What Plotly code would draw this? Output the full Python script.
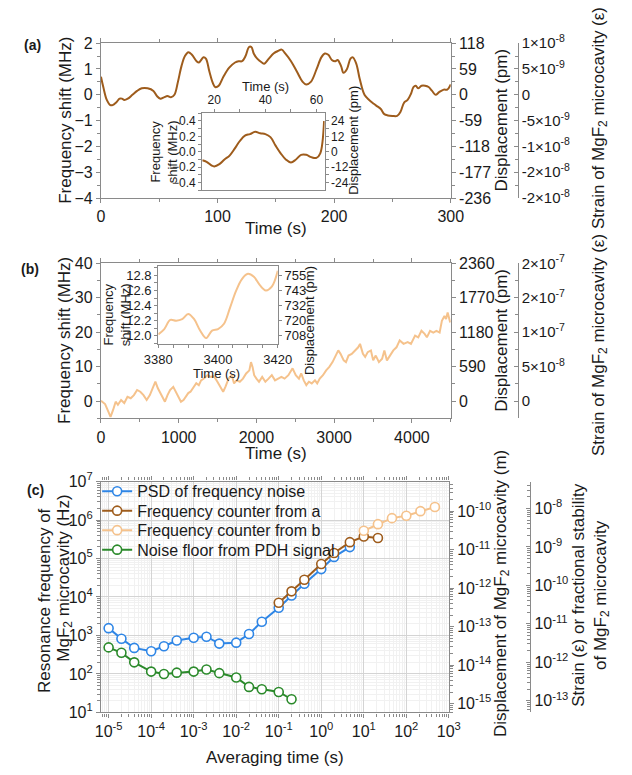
import numpy as np
import plotly.graph_objects as go

# ---------------- data ----------------
# panel (a): frequency shift vs time
a_time = [0,2,5,8,10,13,16,18,20,23,27,31,35,40,45,48,51,54,57,60,63,66,69,72,75,78,82,84,88,90,
          93,96,98,101,105,110,115,118,121,124,127,129,131,134,138,140,144,148,152,155,158,163,168,173,176,180,
          185,189,192,195,198,201,203,206,208,211,214,216,219,222,226,230,234,237,240,243,246,250,254,257,260,
          263,266,268,270,272,275,278,281,284,287,290,294,297,300]
a_shift = [0.7,0.3,-0.2,-0.4,-0.4,-0.3,-0.15,-0.15,-0.2,-0.15,0.0,0.15,0.25,0.25,0.15,-0.05,-0.15,-0.1,-0.05,-0.1,
           0.0,0.5,1.1,1.5,1.65,1.55,1.3,1.25,1.45,1.4,0.9,0.45,0.3,0.35,0.7,1.05,1.25,1.3,1.3,1.5,1.85,1.85,1.6,
           1.4,1.25,1.2,1.4,1.6,1.7,1.75,1.6,1.3,0.9,0.5,0.4,0.5,1.0,1.45,1.6,1.55,1.35,1.3,1.35,1.1,0.85,1.0,1.4,
           1.45,1.2,0.6,0.0,-0.2,-0.35,-0.45,-0.55,-0.75,-0.8,-0.82,-0.82,-0.65,-0.3,-0.2,0.05,0.3,0.35,0.25,0.35,
           0.35,0.3,0.15,0.0,0.1,0.2,0.2,0.4]
a_in_time = [15.3,17,19,20,22,24,26,28,30,32,34,36,38,40,42,44,46,48,50,52,54,56,58,60,61.5,63]
a_in_shift = [-0.11,-0.13,-0.18,-0.19,-0.16,-0.1,-0.05,0.04,0.14,0.21,0.23,0.26,0.24,0.23,0.19,0.08,-0.02,
              -0.1,-0.14,-0.1,-0.04,-0.04,-0.07,-0.08,-0.02,0.4]

# panel (b)
b_time = [0,53,95,123,156,189,218,259,300,341,383,424,465,506,547,588,629,670,700,732,765,794,823,856,889,930,
          959,1000,1029,1062,1095,1123,1152,1185,1226,1259,1288,1329,1370,1411,1453,
          1498,1539,1572,1601,1642,1683,1712,1745,1786,1827,1868,1909,1930,1950,1971,2000,2033,2074,2115,2156,
          2198,2239,2280,2321,2362,2411,2465,2506,2547,2576,2609,2642,2675,2712,2753,2782,2815,2856,2897,
          2938,2979,3020,3053,3082,3123,3152,3185,3226,3267,3309,3333,3370,3399,3432,3473,3502,3535,3576,3617,
          3646,3679,3720,3761,3802,3843,3893,3946,3988,4041,4082,4123,4164,4193,4234,4275,4316,4357,4386,4419,
          4440,4460,4493]
b_shift = [0.1,-0.9,-3.1,-4.6,-2.6,-0.2,-1.1,0.3,-0.6,1.2,0.8,1.7,3.2,2.7,1.7,0.3,1.7,3.7,5.6,3.7,
           2.3,1.2,-0.2,1.7,3.2,4.1,2.7,0.8,-0.2,0.3,1.2,2.3,2.7,3.7,5.2,4.6,6.0,6.6,7.5,7.0,7.2,
           5.6,4.1,2.7,4.1,6.5,7.5,5.1,6.0,5.6,6.5,8.0,8.9,11.3,9.9,7.5,6.5,5.6,7.0,5.6,6.5,
           7.5,6.0,6.5,7.0,6.5,7.5,9.5,7.5,6.5,8.0,6.0,4.6,5.6,5.1,6.0,5.1,6.5,7.5,8.9,
           9.9,11.3,13.2,14.7,13.7,11.8,11.3,13.2,13.7,14.7,15.6,16.6,13.7,12.8,14.2,14.7,11.8,13.2,11.3,12.3,
           14.7,11.8,13.2,14.7,15.6,17.6,16.6,17.1,16.6,19.0,18.5,20.4,19.5,18.5,20.4,19.9,20.4,19.9,23.3,24.7,
           23.8,25.7,22.8]
b_in_time = [3380,3382,3384,3386,3388,3390,3392,3394,3396,3398,3400,3402,3404,3406,3408,3410,3412,3414,3416,3418,3420]
b_in_shift = [12.02,12.09,12.21,12.20,12.22,12.29,12.22,12.07,11.97,12.07,12.09,12.16,12.37,12.59,12.75,12.82,
              12.78,12.67,12.60,12.65,12.86]

# panel (c)
psd_tau = [1e-5,2e-5,4e-5,1e-4,2e-4,4e-4,1e-3,2e-3,4e-3,1e-2,2e-2,4e-2,0.1,0.2,0.4,1,2,4.7]
psd_val = [1550,820,475,390,525,740,870,930,615,650,1090,2280,5270,10900,22000,53000,110000,198000]
ca_tau = [0.1,0.2,0.4,1,2,4.7,10,21.5]
ca_val = [7100,14000,28000,72000,139000,266000,373000,340000]
cb_tau = [10,21.5,46,100,215,470]
cb_val = [525000,780000,1120000,1290000,1700000,2170000]
pdh_tau = [1e-5,2e-5,4e-5,1e-4,2e-4,4e-4,1e-3,2e-3,4e-3,1e-2,2e-2,4e-2,0.1,0.2]
pdh_val = [490,355,200,115,100,108,115,131,105,81,46,40,34,22]
c_names = ["PSD of frequency noise", "Frequency counter from a", "Frequency counter from b",
           "Noise floor from PDH signal"]

# conversions used by the secondary axes
PM_PER_MHZ = 59.0
STRAIN_PER_MHZ = 5e-9
M_PER_HZ = 5.9e-17
STRAIN_PER_HZ = 5e-15

# tick labels
a_y_ticks = [-4,-3,-2,-1,0,1,2]
a_disp_labels = ["-236","-177","-118","-59","0","59","118"]
a_strain_labels = ["-2×10<sup>-8</sup>","-2×10<sup>-8</sup>","-1×10<sup>-8</sup>","-5×10<sup>-9</sup>","0",
                   "5×10<sup>-9</sup>","1×10<sup>-8</sup>"]
a_in_y_ticks = [-0.4,-0.2,0.0,0.2,0.4]
a_in_disp_labels = ["-24","-12","0","12","24"]
b_y_ticks = [0,10,20,30,40]
b_disp_labels = ["0","590","1180","1770","2360"]
b_strain_labels = ["0","5×10<sup>-8</sup>","1×10<sup>-7</sup>","2×10<sup>-7</sup>","2×10<sup>-7</sup>"]
b_in_y_ticks = [12.0,12.2,12.4,12.6,12.8]
b_in_disp_labels = ["708","720","732","743","755"]
c_x_exp = [-5,-4,-3,-2,-1,0,1,2,3]
c_y_exp = [1,2,3,4,5,6,7]
c_disp_exp = [-15,-14,-13,-12,-11,-10]
c_strain_exp = [-13,-12,-11,-10,-9,-8]

# ---------------- styling helpers ----------------
W, H = 632, 775
FONT = "Liberation Sans, Arial, sans-serif"
LC = "#8a8a8a"
TC = "#1a1a1a"
BROWN = "#9E5C1C"
PEACH = "#F5C28C"
BLUE = "#2F86E6"
GREEN = "#2B8A2B"


def px(x):
    return x / W


def py(y):
    return 1 - y / H


def ax(size=16, **kw):
    d = dict(showline=True, linecolor=LC, linewidth=1.2, ticks="outside", ticklen=4, tickwidth=1.2,
             tickcolor=LC, tickfont=dict(size=size, color=TC, family=FONT), showgrid=False, zeroline=False)
    d.update(kw)
    return d


def minor(dt=None, vals=None, grid=False, ticks="outside"):
    m = dict(ticks=ticks, ticklen=3, tickwidth=1, tickcolor=LC)
    if dt is not None:
        m["dtick"] = dt
    if vals is not None:
        m["tickmode"] = "array"
        m["tickvals"] = vals
    if grid:
        m["showgrid"] = True
        m["gridcolor"] = "#f1f1f1"
        m["gridwidth"] = 1
    return m


def logminor(lo, hi):
    return [k * 10.0 ** e for e in range(lo, hi) for k in range(2, 10)]


fig = go.Figure()
hid = dict(mode="lines", line=dict(width=0), showlegend=False, hoverinfo="skip", opacity=0)

# ----- panel (a)
fig.add_trace(go.Scatter(x=a_time, y=a_shift, mode="lines", line=dict(color=BROWN, width=2, shape="spline"),
                         xaxis="x", yaxis="y", showlegend=False))
fig.add_trace(go.Scatter(x=a_time, y=[v * PM_PER_MHZ for v in a_shift], xaxis="x", yaxis="y2", **hid))
fig.add_trace(go.Scatter(x=a_time, y=[v * STRAIN_PER_MHZ for v in a_shift], xaxis="x", yaxis="y3", **hid))
fig.add_trace(go.Scatter(x=a_in_time, y=a_in_shift, mode="lines", line=dict(color=BROWN, width=2, shape="spline"),
                         xaxis="x2", yaxis="y4", showlegend=False))
fig.add_trace(go.Scatter(x=a_in_time, y=[v * PM_PER_MHZ for v in a_in_shift], xaxis="x2", yaxis="y5", **hid))

# ----- panel (b)
fig.add_trace(go.Scatter(x=b_time, y=b_shift, mode="lines", line=dict(color=PEACH, width=2),
                         xaxis="x3", yaxis="y6", showlegend=False))
fig.add_trace(go.Scatter(x=b_time, y=[v * PM_PER_MHZ for v in b_shift], xaxis="x3", yaxis="y7", **hid))
fig.add_trace(go.Scatter(x=b_time, y=[v * STRAIN_PER_MHZ for v in b_shift], xaxis="x3", yaxis="y8", **hid))
fig.add_trace(go.Scatter(x=b_in_time, y=b_in_shift, mode="lines", line=dict(color=PEACH, width=2, shape="spline"),
                         xaxis="x4", yaxis="y9", showlegend=False))
fig.add_trace(go.Scatter(x=b_in_time, y=[v * PM_PER_MHZ for v in b_in_shift], xaxis="x4", yaxis="y10", **hid))

# ----- panel (c)
legs = ["legend", "legend2", "legend3", "legend4"]
for name, tx, vy, col, lg in zip(c_names, [psd_tau, ca_tau, cb_tau, pdh_tau], [psd_val, ca_val, cb_val, pdh_val],
                                 [BLUE, BROWN, PEACH, GREEN], legs):
    fig.add_trace(go.Scatter(x=tx, y=vy, mode="lines+markers", name=name, line=dict(color=col, width=2),
                             marker=dict(symbol="circle", size=9, color="white", line=dict(width=1.6, color=col)),
                             xaxis="x5", yaxis="y11", legend=lg))
fig.add_trace(go.Scatter(x=psd_tau, y=[v * M_PER_HZ for v in psd_val], xaxis="x5", yaxis="y12", **hid))
fig.add_trace(go.Scatter(x=psd_tau, y=[v * STRAIN_PER_HZ for v in psd_val], xaxis="x5", yaxis="y13", **hid))

XA = [px(91), px(457)]
YA = [py(192), py(33)]
YB = [py(418), py(259)]
XC = [px(91), px(455)]
YC = [py(720), py(483)]
XIA = [px(197), px(325)]
YIA = [py(184), py(105)]
XIB = [px(151), px(276)]
YIB = [py(342), py(262)]

a_rng = [-4, 2]
b_rng = [-5, 40]


def legbox(ypix):
    return dict(x=px(87), y=py(ypix), xanchor="left", yanchor="middle", bgcolor="rgba(0,0,0,0)",
                font=dict(size=16, color=TC, family=FONT), itemwidth=30, borderwidth=0)


lay = dict(
    width=W, height=H, margin=dict(l=0, r=0, t=0, b=0), autosize=False,
    paper_bgcolor="white", plot_bgcolor="white", font=dict(family=FONT, color=TC),
    # (a)
    xaxis=ax(domain=XA, anchor="y", range=[0, 300], tickvals=[0, 100, 200, 300], mirror="ticks",
             minor=minor(dt=50)),
    yaxis=ax(domain=YA, anchor="x", range=a_rng, tickvals=a_y_ticks, minor=minor(dt=0.5)),
    yaxis2=ax(overlaying="y", anchor="x", side="right", range=[r * PM_PER_MHZ for r in a_rng],
              tickvals=[v * PM_PER_MHZ for v in a_y_ticks], ticktext=a_disp_labels,
              minor=minor(vals=[(v + 0.5) * PM_PER_MHZ for v in a_y_ticks[:-1]])),
    yaxis3=ax(size=15, overlaying="y", anchor="free", position=px(527), side="right",
              range=[r * STRAIN_PER_MHZ for r in a_rng], ticks="inside",
              tickvals=[v * STRAIN_PER_MHZ for v in a_y_ticks], ticktext=a_strain_labels,
              minor=minor(vals=[(v + 0.5) * STRAIN_PER_MHZ for v in a_y_ticks[:-1]], ticks="inside")),
    xaxis2=ax(size=12, domain=XIA, anchor="y4", side="top", range=[15.3, 63.2], tickvals=[20, 40, 60],
              mirror=True, ticklen=3, minor=minor(dt=10)),
    yaxis4=ax(size=12, domain=YIA, anchor="x2", range=[-0.5, 0.5], tickvals=a_in_y_ticks, tickformat=".1f",
              ticklen=3, minor=minor(dt=0.1)),
    yaxis5=ax(size=12, overlaying="y4", anchor="x2", side="right", range=[-0.5 * PM_PER_MHZ, 0.5 * PM_PER_MHZ],
              tickvals=[v * PM_PER_MHZ for v in a_in_y_ticks], ticktext=a_in_disp_labels, ticklen=3,
              minor=minor(vals=[(v + 0.1) * PM_PER_MHZ for v in a_in_y_ticks[:-1]])),
    # (b)
    xaxis3=ax(domain=XA, anchor="y6", range=[0, 4500], tickvals=[0, 1000, 2000, 3000, 4000], mirror="ticks",
              minor=minor(dt=500)),
    yaxis6=ax(domain=YB, anchor="x3", range=b_rng, tickvals=b_y_ticks, minor=minor(dt=5)),
    yaxis7=ax(overlaying="y6", anchor="x3", side="right", range=[r * PM_PER_MHZ for r in b_rng],
              tickvals=[v * PM_PER_MHZ for v in b_y_ticks], ticktext=b_disp_labels,
              minor=minor(vals=[(v + 5) * PM_PER_MHZ for v in b_y_ticks[:-1]])),
    yaxis8=ax(size=15, overlaying="y6", anchor="free", position=px(527), side="right",
              range=[r * STRAIN_PER_MHZ for r in b_rng], ticks="inside",
              tickvals=[v * STRAIN_PER_MHZ for v in b_y_ticks], ticktext=b_strain_labels,
              minor=minor(vals=[(v + 5) * STRAIN_PER_MHZ for v in b_y_ticks[:-1]], ticks="inside")),
    xaxis4=ax(size=13, domain=XIB, anchor="y9", range=[3380, 3420], tickvals=[3380, 3400, 3420], mirror=True,
              ticklen=3, minor=minor(dt=5)),
    yaxis9=ax(size=13, domain=YIB, anchor="x4", range=[11.89, 12.92], tickvals=b_in_y_ticks, tickformat=".1f",
              ticklen=3, minor=minor(dt=0.1)),
    yaxis10=ax(size=13, overlaying="y9", anchor="x4", side="right",
               range=[11.89 * PM_PER_MHZ, 12.92 * PM_PER_MHZ],
               tickvals=[v * PM_PER_MHZ for v in b_in_y_ticks], ticktext=b_in_disp_labels, ticklen=3),
    # (c)
    xaxis5=ax(domain=XC, anchor="y11", type="log", range=[-5.18, 3], tickvals=[10.0 ** e for e in c_x_exp],
              ticktext=["10<sup>%d</sup>" % e for e in c_x_exp], mirror="ticks",
              showgrid=True, gridcolor="#d4d4d4", gridwidth=1, minor=minor(vals=logminor(-6, 3), grid=True)),
    yaxis11=ax(domain=YC, anchor="x5", type="log", range=[1, 7], tickvals=[10.0 ** e for e in c_y_exp],
               ticktext=["10<sup>%d</sup>" % e for e in c_y_exp],
               showgrid=True, gridcolor="#d4d4d4", gridwidth=1, minor=minor(vals=logminor(1, 7), grid=True)),
    yaxis12=ax(overlaying="y11", anchor="x5", side="right", type="log",
               range=[1 + np.log10(M_PER_HZ), 7 + np.log10(M_PER_HZ)],
               tickvals=[10.0 ** e for e in c_disp_exp], ticktext=["10<sup>%d</sup>" % e for e in c_disp_exp],
               minor=minor(vals=logminor(-16, -9))),
    yaxis13=ax(overlaying="y11", anchor="free", position=px(540), side="right", type="log", ticks="inside",
               range=[1 + np.log10(STRAIN_PER_HZ), 7 + np.log10(STRAIN_PER_HZ)],
               tickvals=[10.0 ** e for e in c_strain_exp], ticktext=["10<sup>%d</sup>" % e for e in c_strain_exp],
               minor=minor(vals=logminor(-14, -7), ticks="inside")),
    legend=legbox(493), legend2=legbox(513), legend3=legbox(533), legend4=legbox(553),
    showlegend=True,
)
fig.update_layout(**lay)


def ann(text, x, y, size=17, angle=0, bold=False):
    fig.add_annotation(text=("<b>%s</b>" % text) if bold else text, x=px(x), y=py(y), xref="paper",
                       yref="paper", showarrow=False, textangle=angle, xanchor="center", yanchor="middle",
                       font=dict(size=size, color=TC, family=FONT))


# panel labels
ann("(a)", 19, 35, size=14, bold=True)
ann("(b)", 17, 265, size=14, bold=True)
ann("(c)", 22, 492, size=14, bold=True)
# (a) titles
ann("Frequency shift (MHz)", 53, 112, angle=-90)
ann("Time (s)", 274, 223)
ann("Displacement (pm)", 510, 112, angle=-90)
ann("Strain of MgF<sub>2</sub> microcavity (ε)", 613, 110, angle=-90)
ann("Frequency<br>shift (MHz)", 157, 145, size=13, angle=-90)
ann("Time (s)", 263, 78, size=13)
ann("Displacement (pm)", 355, 133, size=13, angle=-90)
# (b) titles
ann("Frequency shift (MHz)", 53, 338, angle=-90)
ann("Time (s)", 274, 454)
ann("Displacement (pm)", 510, 338, angle=-90)
ann("Strain of MgF<sub>2</sub> microcavity (ε)", 613, 343, angle=-90)
ann("Frequency<br>shift (MHz)", 108, 312, size=13, angle=-90)
ann("Time (s)", 212, 372, size=13)
ann("Displacement (pm)", 309, 318, size=13, angle=-90)
# (c) titles
ann("Resonance frequency of", 32, 605, angle=-90)
ann("MgF<sub>2</sub> microcavity (Hz)", 53, 582, angle=-90)
ann("Averaging time (s)", 273, 766)
ann("Displacement of MgF<sub>2</sub> microcavity (m)", 510, 598, angle=-90)
ann("Strain (ε) or fractional stability<br>of MgF<sub>2</sub> microcavity", 603, 600, angle=-90)

fig.write_html("out.html")
